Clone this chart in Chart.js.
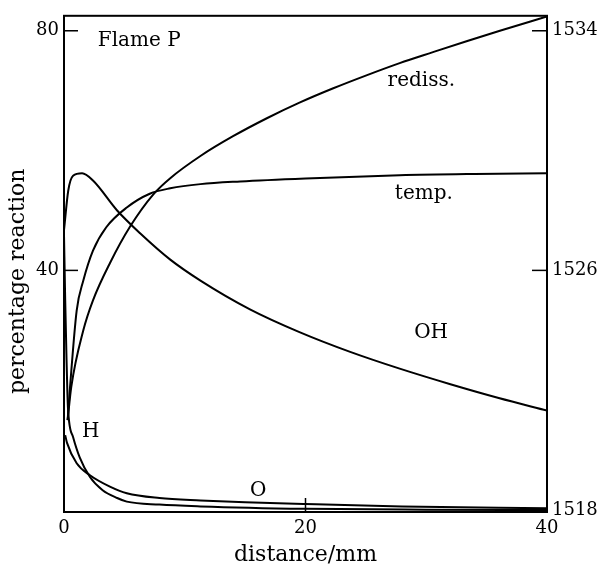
<!DOCTYPE html>
<html><head><meta charset="utf-8">
<script src="https://cdn.jsdelivr.net/npm/chart.js@4.4.0/dist/chart.umd.min.js"></script>
<style>html,body{margin:0;padding:0;background:#fff;}</style>
</head><body>
<canvas id="c" width="601" height="575" style="display:block"></canvas>
<script>
// distance / mm and values
const redissX = [0.3, 0.6, 1.6, 2.4, 3.8, 5.5, 7.4, 8.8, 11.3, 14, 16.8, 19.5, 22.3, 25.1, 27.8, 30.5, 33.4, 36.1, 40];
const redissY = [15, 20.5, 30, 35, 41.2, 47.4, 52.7, 55.4, 59.1, 62.4, 65.4, 68.0, 70.4, 72.6, 74.6, 76.4, 78.3, 80.0, 82.4];

// temperature / K (right axis)
const tempX = [0.3, 0.5, 1.05, 1.6, 2.4, 3.5, 5.2, 7.1, 8.8, 11.3, 14.6, 20, 27.8, 34, 40];
const tempK = [1521.0, 1522.1, 1524.66, 1525.66, 1526.66, 1527.44, 1528.1, 1528.56, 1528.74, 1528.88, 1528.97, 1529.07, 1529.18, 1529.22, 1529.24];

const ohX = [0, 0.35, 0.75, 1.5, 2.4, 4.4, 6.3, 8.8, 11.3, 15.4, 19.5, 23.7, 27.8, 32, 36, 40];
const ohY = [46.7, 53.3, 55.8, 56.2, 55, 50, 46.2, 41.8, 38.3, 33.5, 29.7, 26.4, 23.6, 21, 18.7, 16.6];

const hX = [0, 0.1, 0.2, 0.33, 0.75, 1.3, 2.15, 3.2, 4.4, 5.2, 7.9, 11.3, 20, 30, 40];
const hY = [46, 35, 26, 17, 12.2, 8.8, 5.5, 3.3, 2.0, 1.4, 0.9, 0.6, 0.2, 0.05, 0];

const oX = [0.1, 0.25, 1.05, 2.15, 3.8, 5.2, 7.9, 11.3, 15, 20, 28, 40];
const oY = [12.5, 11.2, 7.8, 5.8, 3.9, 2.8, 2.0, 1.6, 1.3, 1.0, 0.6, 0.3];

const xTicks = [0, 20, 40];
const leftTicks = [40, 80];
const rightTicks = [1518, 1526, 1534];

const noteText = ['Flame P', 'rediss.', 'temp.', 'OH', 'H', 'O'];
const noteX = [2.8, 26.8, 27.4, 29.0, 1.5, 15.4];
const noteY = [78.3, 71.7, 52.8, 29.5, 13, 3.2];

const pts = (xs, ys) => xs.map((x, i) => ({x: x, y: ys[i]}));
const FONT = 'DejaVu Serif';

const lineStyle = {borderColor: '#000', borderWidth: 2, pointRadius: 0, fill: false, cubicInterpolationMode: 'monotone'};

const framePlugin = {
  id: 'frame',
  afterDatasetsDraw(chart) {
    const {ctx, chartArea: a, scales} = chart;
    ctx.save();
    ctx.strokeStyle = '#000';
    ctx.lineWidth = 2;
    ctx.strokeRect(a.left, a.top, a.right - a.left, a.bottom - a.top);
    ctx.lineWidth = 1.5;
    const seg = (x1, y1, x2, y2) => { ctx.beginPath(); ctx.moveTo(x1, y1); ctx.lineTo(x2, y2); ctx.stroke(); };
    leftTicks.forEach(v => { const y = scales.y.getPixelForValue(v); seg(a.left, y, a.left + 14, y); });
    rightTicks.forEach(v => { const y = scales.y1.getPixelForValue(v); seg(a.right - 15, y, a.right, y); });
    xTicks.forEach(v => { const x = scales.x.getPixelForValue(v); seg(x, a.bottom, x, a.bottom - 14); });
    ctx.fillStyle = '#000';
    ctx.font = '20px "' + FONT + '"';
    ctx.textAlign = 'left';
    ctx.textBaseline = 'middle';
    noteText.forEach((t, i) => {
      ctx.fillText(t, scales.x.getPixelForValue(noteX[i]), scales.y.getPixelForValue(noteY[i]));
    });
    ctx.restore();
  }
};

const tickFont = {family: FONT, size: 18};
const titleFont = {family: FONT, size: 22};

new Chart(document.getElementById('c'), {
  type: 'line',
  data: {
    datasets: [
      Object.assign({label: 'rediss.', data: pts(redissX, redissY), yAxisID: 'y'}, lineStyle),
      Object.assign({label: 'temp.', data: pts(tempX, tempK), yAxisID: 'y1'}, lineStyle),
      Object.assign({label: 'OH', data: pts(ohX, ohY), yAxisID: 'y'}, lineStyle),
      Object.assign({label: 'H', data: pts(hX, hY), yAxisID: 'y'}, lineStyle),
      Object.assign({label: 'O', data: pts(oX, oY), yAxisID: 'y'}, lineStyle)
    ]
  },
  options: {
    responsive: false,
    animation: false,
    devicePixelRatio: 1,
    layout: {padding: {top: 15, left: 0, right: 0, bottom: 0}},
    plugins: {legend: {display: false}, tooltip: {enabled: false}},
    scales: {
      x: {
        type: 'linear', min: 0, max: 40, position: 'bottom',
        grid: {display: false, drawTicks: false}, border: {display: false},
        ticks: {font: tickFont, color: '#000', padding: 6, maxRotation: 0, callback: v => String(v)},
        afterBuildTicks: s => { s.ticks = xTicks.map(v => ({value: v})); },
        afterFit: s => { s.height = 63; },
        title: {display: true, text: 'distance/mm', font: titleFont, color: '#000', padding: {top: 0, bottom: 7}}
      },
      y: {
        type: 'linear', min: -0.333, max: 82.5, position: 'left',
        grid: {display: false, drawTicks: false}, border: {display: false},
        ticks: {font: tickFont, color: '#000', padding: 5, callback: v => String(v)},
        afterBuildTicks: s => { s.ticks = leftTicks.map(v => ({value: v})); },
        afterFit: s => { s.width = 64; },
        title: {display: true, text: 'percentage reaction\u00a0\u00a0\u00a0\u00a0\u00a0', font: titleFont, color: '#000', padding: {top: 5, bottom: 0}}
      },
      y1: {
        type: 'linear', min: 1517.933, max: 1534.5, position: 'right',
        grid: {display: false, drawTicks: false}, border: {display: false},
        ticks: {font: tickFont, color: '#000', padding: 5, callback: v => String(v)},
        afterBuildTicks: s => { s.ticks = rightTicks.map(v => ({value: v})); },
        afterFit: s => { s.width = 54; }
      }
    }
  },
  plugins: [framePlugin]
});
</script>
</body></html>
